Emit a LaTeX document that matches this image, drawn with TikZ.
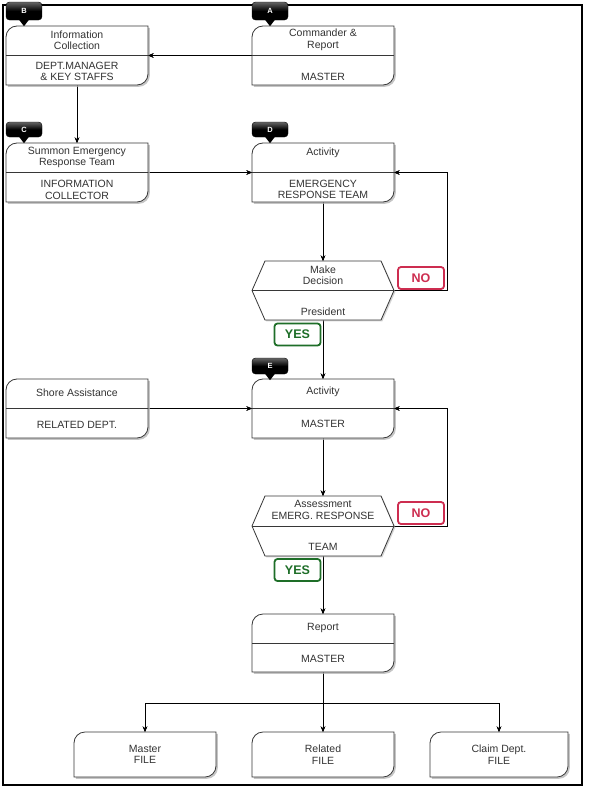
\documentclass[tikz,border=0pt]{standalone}
\usepackage{fontspec}
\setmainfont{Liberation Sans}
\usetikzlibrary{arrows.meta}
\definecolor{noc}{RGB}{205,45,80}
\definecolor{yesc}{RGB}{30,110,40}
\definecolor{edgec}{RGB}{55,55,55}
\newcommand\procpath[1]{(#1.south west) -- ([yshift=-11pt]#1.north west) .. controls ([yshift=-4.9pt]#1.north west) and ([xshift=4.9pt]#1.north west) .. ([xshift=11pt]#1.north west)
    -- (#1.north east) -- ([yshift=11pt]#1.south east) .. controls ([yshift=4.9pt]#1.south east) and ([xshift=-4.9pt]#1.south east) .. ([xshift=-11pt]#1.south east) -- cycle}
\newcommand\procshape[1]{%
  \fill[gray!60, opacity=.75, transform canvas={xshift=1.8pt,yshift=-1.8pt}] \procpath{#1};
  \filldraw[fill=white, draw=edgec, line width=.8pt] \procpath{#1};}
\newcommand\hexpath[1]{([xshift=13pt]#1.north west) -- ([xshift=-13pt]#1.north east) -- (#1.east) -- ([xshift=-13pt]#1.south east) -- ([xshift=13pt]#1.south west) -- (#1.west) -- cycle}
\newcommand\hexshape[1]{%
  \fill[gray!60, opacity=.55, transform canvas={xshift=1.4pt,yshift=-1.4pt}] \hexpath{#1};
  \filldraw[fill=white, draw=edgec, line width=.8pt] \hexpath{#1};}
\newcommand\divline[1]{\draw[edgec, line width=.8pt] (#1.west) -- (#1.east);}
\newcommand\tagtip[1]{\fill[black] ([xshift=-5pt,yshift=.5pt]#1.south) -- ([yshift=-6pt]#1.south) -- ([xshift=5pt,yshift=.5pt]#1.south) -- cycle;}
\begin{document}
\begin{tikzpicture}[x=1pt,y=-1pt,
  slot/.style={rectangle, inner sep=0, outer sep=0, minimum width=142pt, minimum height=59pt},
  txt/.style={font=\fontsize{10.5}{11.5}\selectfont, text=black!80, align=center, inner sep=0},
  tagbox/.style={rectangle, rounded corners=3.5pt, top color=black!60, bottom color=black, middle color=black, draw=black, text=white, font=\fontsize{7.5}{8}\bfseries\selectfont, minimum width=36pt, minimum height=15pt, inner sep=0},
  arr/.style={-{Stealth[length=5.5pt,width=4.5pt]}, line width=.8pt, black},
  lab/.style={rectangle, rounded corners=3pt, line width=1.8pt, fill=white, font=\fontsize{12.5}{13}\bfseries\selectfont, minimum width=46pt, minimum height=22pt, inner sep=0},
  nolab/.style={lab, draw=noc, text=noc},
  yeslab/.style={lab, draw=yesc, text=yesc}]
\useasboundingbox (0,0) rectangle (593,787);
\fill[white] (0,0) rectangle (593,787);
\draw[black, line width=1.1pt] (3,5) rectangle (582,785);

% slots
\node[slot] (B) at (77,55.5) {};
\node[slot] (A) at (323,55.5) {};
\node[slot] (C) at (77,172.5) {};
\node[slot] (D) at (323,172.5) {};
\node[slot] (dec1) at (323,290.5) {};
\node[slot] (S) at (77,408.5) {};
\node[slot] (E) at (323,408.5) {};
\node[slot, minimum height=60pt] (dec2) at (323,526) {};
\node[slot, minimum height=58pt] (R) at (323,643) {};
\node[slot, minimum height=45pt] (F1) at (145,754.5) {};
\node[slot, minimum height=45pt] (F2) at (323,754.5) {};
\node[slot, minimum height=45pt, minimum width=138pt] (F3) at (499,754.5) {};

% connectors (drawn first, boxes on top)
\draw[arr] (A.west) -- (B.east);
\draw[arr] (B.south) -- (C.north);
\draw[arr] (C.east) -- (D.west);
\draw[arr] (D.south) -- (dec1.north);
\draw[arr] (dec1.east) -- ++(53,0) |- (D.east);
\draw[arr] (dec1.south) -- (E.north);
\draw[arr] (S.east) -- (E.west);
\draw[arr] (E.south) -- (dec2.north);
\draw[arr] (dec2.east) -- ++(53,0) |- (E.east);
\draw[arr] (dec2.south) -- (R.north);
\draw[arr] (R.south) -- (F2.north);
\draw[arr] (R.south) -- ++(0,31) -| (F1.north);
\draw[arr] (R.south) -- ++(0,31) -| (F3.north);

% shapes
\procshape{B}\divline{B}
\procshape{A}\divline{A}
\procshape{C}\divline{C}
\procshape{D}\divline{D}
\hexshape{dec1}\divline{dec1}
\procshape{S}\divline{S}
\procshape{E}\divline{E}
\hexshape{dec2}\divline{dec2}
\procshape{R}\divline{R}
\procshape{F1}
\procshape{F2}
\procshape{F3}

% arrowheads over box edges
\draw[arr] ([xshift=2pt]B.east) -- (B.east);
\draw[arr] ([yshift=2pt]C.north) -- (C.north);
\draw[arr] ([xshift=-2pt]D.west) -- (D.west);
\draw[arr] ([xshift=2pt]D.east) -- (D.east);
\draw[arr] ([yshift=2pt]dec1.north) -- (dec1.north);
\draw[arr] ([yshift=2pt]E.north) -- (E.north);
\draw[arr] ([xshift=-2pt]E.west) -- (E.west);
\draw[arr] ([xshift=2pt]E.east) -- (E.east);
\draw[arr] ([yshift=2pt]dec2.north) -- (dec2.north);
\draw[arr] ([yshift=2pt]R.north) -- (R.north);
\draw[arr] ([yshift=2pt]F1.north) -- (F1.north);
\draw[arr] ([yshift=2pt]F2.north) -- (F2.north);
\draw[arr] ([yshift=2pt]F3.north) -- (F3.north);

% texts
\node[txt] (Bt) at (77,40) {Information\\Collection};
\node[txt] (Bb) at (77,71.5) {DEPT.MANAGER\\\& KEY STAFFS};
\node[txt] (At) at (323,40) {Commander \&\\Report};
\node[txt] (Ab) at (323,77) {MASTER};
\node[txt] (Ct) at (77,157.5) {Summon Emergency\\Response Team};
\node[txt] (Cb) at (77,190) {INFORMATION\\COLLECTOR};
\node[txt] (Dt) at (323,153) {Activity};
\node[txt] (Db) at (323,189.5) {EMERGENCY\\RESPONSE TEAM};
\node[txt] (d1t) at (323,275) {Make\\Decision};
\node[txt] (d1b) at (323,312) {President};
\node[txt] (St) at (77,393) {Shore Assistance};
\node[txt] (Sb) at (77,424.5) {RELATED DEPT.};
\node[txt] (Et) at (323,392) {Activity};
\node[txt] (Eb) at (323,424) {MASTER};
\node[txt] (d2t) at (323,510) {Assessment\\EMERG. RESPONSE};
\node[txt] (d2b) at (323,547) {TEAM};
\node[txt] (Rt) at (323,628) {Report};
\node[txt] (Rb) at (323,658.5) {MASTER};
\node[txt] (F1t) at (145,754.5) {Master\\FILE};
\node[txt] (F2t) at (323,754.5) {Related\\FILE};
\node[txt] (F3t) at (499,754.5) {Claim Dept.\\FILE};

% decision labels
\node[nolab] (no1) at (421,278) {NO};
\node[nolab] (no2) at (421,513) {NO};
\node[yeslab] (yes1) at (297.5,334.5) {YES};
\node[yeslab] (yes2) at (297.5,570) {YES};

% tags
\node[tagbox, minimum height=18pt] (tB) at (24,11) {B};
\node[tagbox, minimum height=18pt] (tA) at (270,11) {A};
\node[tagbox] (tC) at (24,129.5) {C};
\node[tagbox] (tD) at (270,129.5) {D};
\node[tagbox, minimum height=16pt] (tE) at (270,366) {E};
\tagtip{tB}\tagtip{tA}\tagtip{tC}\tagtip{tD}\tagtip{tE}
\end{tikzpicture}
\end{document}
